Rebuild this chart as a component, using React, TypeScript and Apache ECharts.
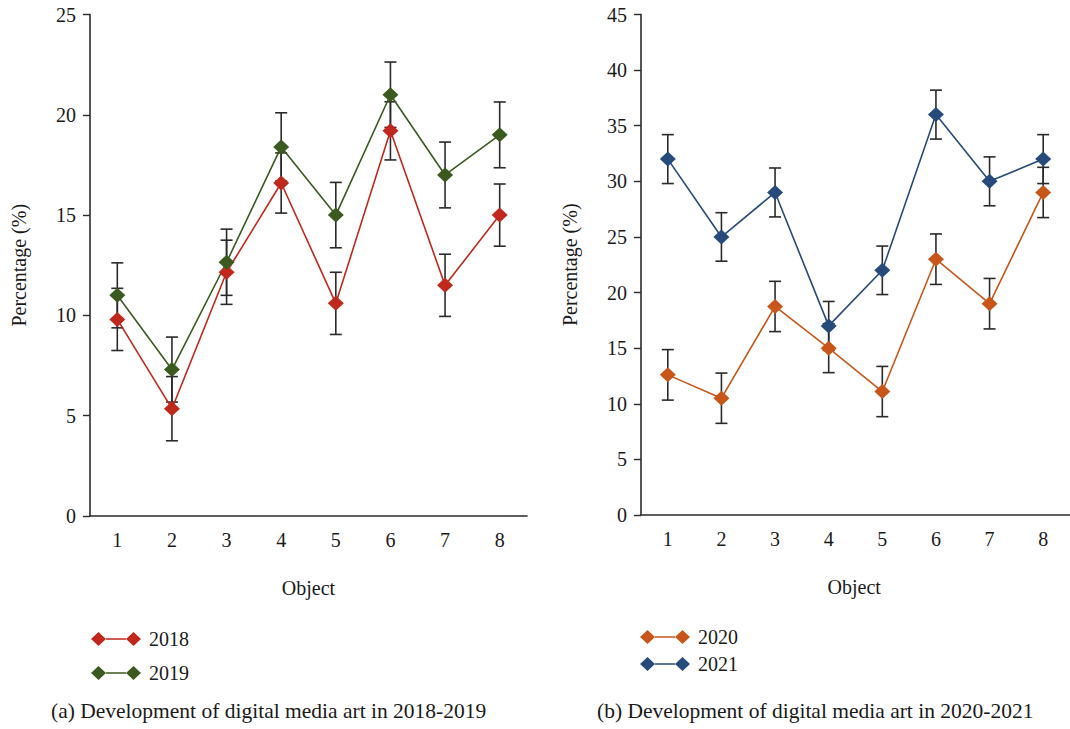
import React, { useEffect, useRef } from "react";
import * as echarts from "echarts";

const categories = ["1", "2", "3", "4", "5", "6", "7", "8"];
const y2018 = [9.8, 5.35, 12.15, 16.6, 10.6, 19.2, 11.5, 15.0];
const y2019 = [11.0, 7.3, 12.65, 18.4, 15.0, 21.0, 17.0, 19.0];
const e2018 = [1.55, 1.6, 1.6, 1.5, 1.55, 1.45, 1.55, 1.55];
const e2019 = [1.62, 1.62, 1.65, 1.7, 1.63, 1.63, 1.64, 1.64];
const y2020 = [12.6, 10.5, 18.75, 15.0, 11.1, 23.0, 19.0, 29.0];
const y2021 = [32, 25, 29, 17, 22, 36, 30, 32];
const e2020 = [2.27, 2.26, 2.26, 2.2, 2.26, 2.27, 2.27, 2.26];
const e2021 = [2.2, 2.18, 2.2, 2.2, 2.18, 2.2, 2.2, 2.2];
const leftTicks = { min: 0, max: 25, interval: 5 };
const rightTicks = { min: 0, max: 45, interval: 5 };
const captionA = "(a) Development of digital media art in 2018-2019";
const captionB = "(b) Development of digital media art in 2020-2021";

const FONT = "Liberation Serif";
const AXIS_COLOR = "#2b2b2b";
const COLORS: Record<string, string> = {
  "2018": "#c0281e",
  "2019": "#3b5a1f",
  "2020": "#c8561a",
  "2021": "#264a7a",
};
const LEGEND_ICON =
  "path://M0,7 L7.5,0 L15,7 L7.5,14 Z M15,6.2 L35,6.2 L35,7.8 L15,7.8 Z M35,7 L42.5,0 L50,7 L42.5,14 Z";

function errData(vals: number[], errs: number[]) {
  return vals.map((v, i) => [i, v - errs[i], v + errs[i]]);
}

function errSeries(name: string, idx: number, vals: number[], errs: number[]) {
  return {
    type: "custom",
    name: name + " err",
    xAxisIndex: idx,
    yAxisIndex: idx,
    z: 1,
    data: errData(vals, errs),
    encode: { x: 0, y: [1, 2] },
    renderItem: (params: any, api: any) => {
      const x = api.value(0);
      const lo = api.coord([x, api.value(1)]);
      const hi = api.coord([x, api.value(2)]);
      const w = 6;
      const style = { stroke: "#2a2a2a", lineWidth: 1.6 };
      return {
        type: "group",
        children: [
          { type: "line", shape: { x1: lo[0], y1: lo[1], x2: hi[0], y2: hi[1] }, style },
          { type: "line", shape: { x1: lo[0] - w, y1: lo[1], x2: lo[0] + w, y2: lo[1] }, style },
          { type: "line", shape: { x1: hi[0] - w, y1: hi[1], x2: hi[0] + w, y2: hi[1] }, style },
        ],
      };
    },
  };
}

function lineSeries(name: string, idx: number, vals: number[]) {
  return {
    type: "line",
    name,
    xAxisIndex: idx,
    yAxisIndex: idx,
    z: 3,
    data: vals,
    symbol: "diamond",
    symbolSize: [16, 15],
    color: COLORS[name],
    lineStyle: { width: 1.6, color: COLORS[name] },
    itemStyle: { color: COLORS[name] },
  };
}

function xAxis(gridIndex: number, extra: any = {}) {
  return {
    type: "category",
    gridIndex,
    data: categories,
    boundaryGap: true,
    name: "Object",
    nameLocation: "middle",
    nameGap: 62,
    nameTextStyle: { fontFamily: FONT, fontSize: 20, color: "#1a1a1a", ...extra },
    axisLine: { lineStyle: { color: AXIS_COLOR, width: 1.6 } },
    axisTick: { alignWithLabel: true, length: 7, lineStyle: { color: AXIS_COLOR, width: 1.4 } },
    axisLabel: { margin: 14, fontFamily: FONT, fontSize: 20, color: "#1a1a1a" },
    splitLine: { show: false },
  };
}

function yAxis(gridIndex: number, t: any) {
  return {
    type: "value",
    gridIndex,
    min: t.min,
    max: t.max,
    interval: t.interval,
    name: "Percentage (%)",
    nameLocation: "middle",
    nameGap: 61,
    nameTextStyle: { fontFamily: FONT, fontSize: 20, color: "#1a1a1a" },
    axisLine: { show: true, lineStyle: { color: AXIS_COLOR, width: 1.6 } },
    axisTick: { show: true, length: 7, lineStyle: { color: AXIS_COLOR, width: 1.4 } },
    axisLabel: { margin: 14, fontFamily: FONT, fontSize: 20, color: "#1a1a1a" },
    splitLine: { show: false },
  };
}

function legend(left: number, top: number, names: string[], gap: number) {
  return {
    orient: "vertical",
    left,
    top,
    padding: 0,
    itemGap: gap,
    itemWidth: 50,
    itemHeight: 14,
    icon: LEGEND_ICON,
    data: names,
    textStyle: { fontFamily: FONT, fontSize: 20, color: "#1a1a1a", padding: [0, 0, 0, 3] },
  };
}

export default function App() {
  const ref = useRef<HTMLDivElement>(null);
  useEffect(() => {
    if (!ref.current) return;
    const chart = echarts.init(ref.current, null, { renderer: "svg" });
    const capStyle = { fontFamily: FONT, fontSize: 21.5, fontWeight: "normal", color: "#1a1a1a" };
    chart.setOption({
      animation: false,
      backgroundColor: "#ffffff",
      title: [
        { text: captionA, left: 51, top: 700, padding: 0, textStyle: capStyle },
        { text: captionB, left: 597, top: 700, padding: 0, textStyle: capStyle },
      ],
      legend: [legend(91, 629, ["2018", "2019"], 14), legend(640, 627, ["2020", "2021"], 7)],
      grid: [
        { left: 90, top: 14.5, width: 437, height: 501.5 },
        { left: 641, top: 14.5, width: 445, height: 500.5 },
      ],
      xAxis: [xAxis(0), xAxis(1, { padding: [0, 2.5, 0, 0] })],
      yAxis: [yAxis(0, leftTicks), yAxis(1, rightTicks)],
      series: [
        errSeries("2018", 0, y2018, e2018),
        errSeries("2019", 0, y2019, e2019),
        lineSeries("2018", 0, y2018),
        lineSeries("2019", 0, y2019),
        errSeries("2020", 1, y2020, e2020),
        errSeries("2021", 1, y2021, e2021),
        lineSeries("2020", 1, y2020),
        lineSeries("2021", 1, y2021),
      ],
    });
    return () => chart.dispose();
  }, []);
  return (
    <div
      ref={ref}
      style={{ position: "absolute", left: 0, top: 0, width: 1070, height: 729, background: "#fff" }}
    />
  );
}
